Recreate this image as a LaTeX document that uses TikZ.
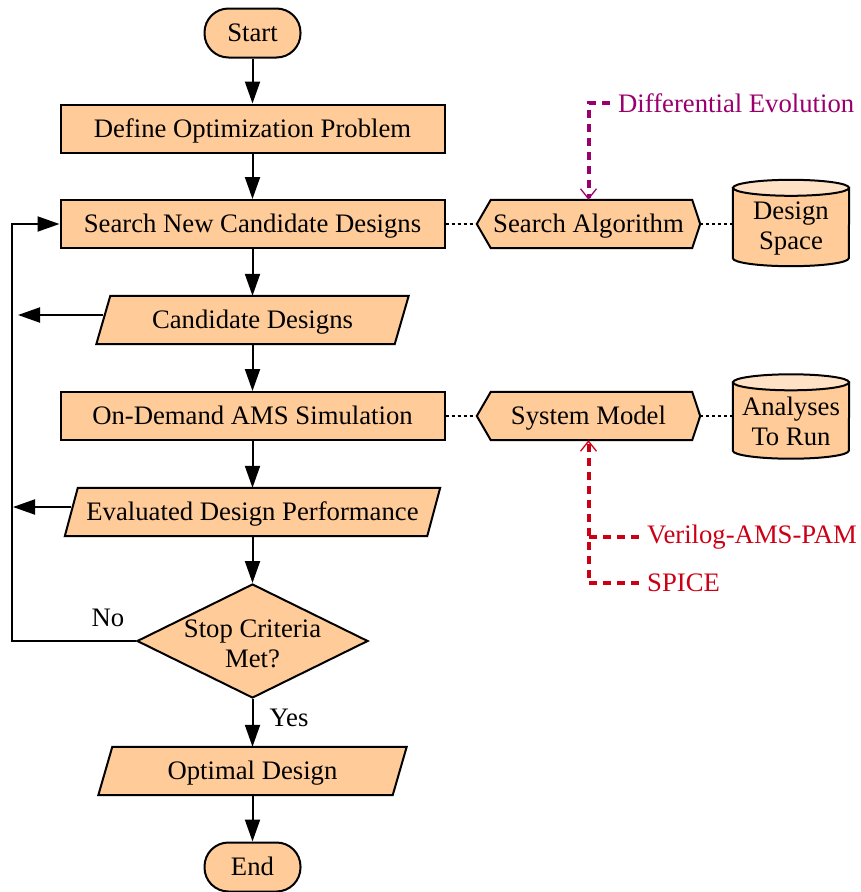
\documentclass[tikz,border=0pt]{standalone}
\usepackage{fontspec}
\setmainfont{Liberation Serif}
\usetikzlibrary{arrows.meta,calc,shapes.geometric,backgrounds}
\definecolor{boxfill}{RGB}{255,204,153}
\definecolor{cyltop}{RGB}{255,226,198}
\definecolor{depurple}{RGB}{153,0,110}
\definecolor{simred}{RGB}{204,0,20}
\begin{document}
\begin{tikzpicture}[x=1pt,y=-1pt, font=\fontsize{26.7}{30}\selectfont,
  oneline/.style={text height=21pt, text depth=4pt},
  box/.style={draw, fill=boxfill, line width=2pt, minimum height=48pt, minimum width=384pt, inner sep=0pt, oneline},
  term/.style={draw, fill=boxfill, line width=2pt, rounded corners=24pt, minimum width=96pt, minimum height=49pt, inner sep=0pt, oneline},
  ghost/.style={inner sep=0pt, align=center},
  shp/.style={draw, fill=boxfill, line width=2pt, line join=miter},
  arr/.style={line width=2pt, -{Triangle[length=22pt,width=15pt]}},
  dots/.style={line width=2.2pt, dash pattern=on 3pt off 3pt},
  deline/.style={line width=4pt, depurple, dash pattern=on 8pt off 6pt, -{Straight Barb[length=10pt,width=16pt,line width=1.3pt]}},
  redline/.style={line width=4pt, simred, dash pattern=on 8pt off 6pt},
  lbl/.style={inner sep=8pt, anchor=west}
]
\useasboundingbox (0,0) rectangle (860,892);

% main flow
\node[term] (start) at (252.5,33) {Start};
\node[box] (def) at (252.5,128.5) {Define Optimization Problem};
\node[box] (search) at (252.5,224) {Search New Candidate Designs};
\node[ghost, oneline, minimum width=298pt, minimum height=48pt] (cand) at (252.5,320) {Candidate Designs};
\node[box] (sim) at (252.5,416) {On-Demand AMS Simulation};
\node[ghost, oneline, minimum width=362pt, minimum height=48pt] (eval) at (252.5,512) {Evaluated Design Performance};
\node[diamond, draw, fill=boxfill, line width=2pt, minimum width=231pt, minimum height=114pt, inner sep=0pt] (stop) at (252.5,641) {};
\node[ghost] (stoptext) at (252.5,644) {Stop Criteria\\Met?};
\node[ghost, oneline, minimum width=294pt, minimum height=48pt] (opt) at (252.5,771) {Optimal Design};
\node[term] (end) at (252.5,867) {End};

% right side
\node[ghost, oneline, minimum width=223pt, minimum height=48pt] (sa) at (588.5,224) {Search Algorithm};
\node[ghost, oneline, minimum width=223pt, minimum height=48pt] (sm) at (588.5,416) {System Model};
\node[minimum width=116pt, minimum height=86pt, inner sep=0pt] (ds) at (791,223) {};
\node[ghost] (dstext) at (791,228) {Design\\Space};
\node[minimum width=116pt, minimum height=84pt, inner sep=0pt] (ar) at (791,416.5) {};
\node[ghost] (artext) at (791,421) {Analyses\\To Run};

\node[lbl, text=depurple] (de) at (610,103) {Differential Evolution};
\node[lbl, text=simred] (veri) at (639,537) {Verilog-AMS-PAM};
\node[lbl, text=simred] (spice) at (639,583) {SPICE};

\node[ghost] (no) at (108,618) {No};
\node[ghost] (yes) at (289,718) {Yes};

\begin{scope}[on background layer]
  % parallelograms
  \draw[shp] ($(cand.north west)+(7,0)$) -- ($(cand.north east)+(7,0)$) -- ($(cand.south east)+(-7,0)$) -- ($(cand.south west)+(-7,0)$) -- cycle;
  \draw[shp] ($(eval.north west)+(6.5,0)$) -- ($(eval.north east)+(6.5,0)$) -- ($(eval.south east)+(-6.5,0)$) -- ($(eval.south west)+(-6.5,0)$) -- cycle;
  \draw[shp] ($(opt.north west)+(7,0)$) -- ($(opt.north east)+(7,0)$) -- ($(opt.south east)+(-7,0)$) -- ($(opt.south west)+(-7,0)$) -- cycle;
  % hexagons
  \foreach \h in {sa,sm}{
    \draw[shp] (\h.west) -- ($(\h.north west)+(14,0)$) -- ($(\h.north east)+(-8,0)$) -- (\h.east) -- ($(\h.south east)+(-8,0)$) -- ($(\h.south west)+(14,0)$) -- cycle;
  }
  % cylinders
  \foreach \c in {ds,ar}{
    \draw[shp] ($(\c.north west)+(0,8)$) -- ($(\c.south west)+(0,-8)$) arc[start angle=180,end angle=0,x radius=58,y radius=8] -- ($(\c.north east)+(0,8)$) -- cycle;
    \draw[shp, fill=cyltop] ($(\c.north)+(0,8)$) ellipse[x radius=58, y radius=8];
  }
\end{scope}

% flow arrows
\draw[arr] (start.south) -- (def.north);
\draw[arr] (def.south) -- (search.north);
\draw[arr] (search.south) -- (cand.north);
\draw[arr] (cand.south) -- (sim.north);
\draw[arr] (sim.south) -- (eval.north);
\draw[arr] (eval.south) -- (stop.north);
\draw[arr] (stop.south) -- (opt.north);
\draw[arr] (opt.south) -- (end.north);

% feedback
\coordinate (loopx) at (12,0);
\coordinate (candout) at (18,315);
\coordinate (evalout) at (13,507);
\draw[arr] (stop.west) -- (stop.west -| loopx) |- (search.west);
\draw[arr] ([yshift=5pt]cand.west) -- (candout);
\draw[arr] ([yshift=5pt]eval.west) -- (evalout);

% dotted associations
\draw[dots] (search.east) -- (sa.west);
\draw[dots] (sa.east) -- (sa.east -| ds.west);
\draw[dots] (sim.east) -- (sm.west);
\draw[dots] (sm.east) -- (sm.east -| ar.west);

% coloured inputs
\draw[deline] (de.west) -| (sa.north);
\draw[redline, -{Straight Barb[length=10pt,width=16pt,line width=1.3pt]}] (spice.west) -| (sm.south);
\draw[redline] (veri.west) -- (veri.west -| sm.south);
\end{tikzpicture}
\end{document}
